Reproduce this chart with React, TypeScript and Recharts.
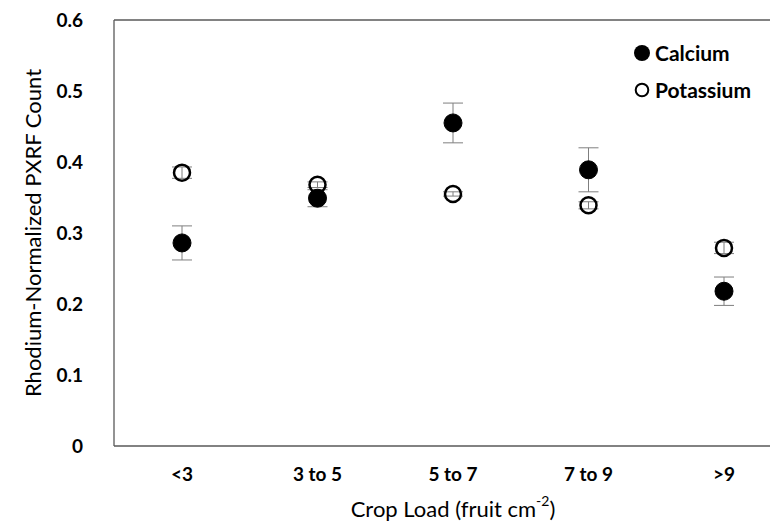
import React from 'react';
import { ComposedChart, Scatter, XAxis, YAxis, ErrorBar, ReferenceLine, Legend } from 'recharts';

const categories = ['<3', '3 to 5', '5 to 7', '7 to 9', '>9'];
const calcium = [0.286, 0.349, 0.455, 0.389, 0.218];
const calciumErr = [0.024, 0.012, 0.028, 0.031, 0.02];
const potassium = [0.385, 0.368, 0.355, 0.339, 0.279];
const potassiumErr = [0.008, 0.004, 0.003, 0.005, 0.008];
const yTicks = [0, 0.1, 0.2, 0.3, 0.4, 0.5, 0.6];
const seriesNames = ['Calcium', 'Potassium'];

const data = categories.map((c, i) => ({
  cat: c,
  ca: calcium[i],
  caErr: calciumErr[i],
  k: potassium[i],
  kErr: potassiumErr[i],
}));

const FONT = 'Lato, Carlito, Calibri, "Open Sans", sans-serif';
const AXIS = '#595959';

const FilledDot = (p: any) => <circle cx={p.cx} cy={p.cy} r={9} fill="#000" stroke="#000" strokeWidth={1} />;
const OpenDot = (p: any) => <circle cx={p.cx} cy={p.cy} r={8} fill="none" stroke="#000" strokeWidth={2.5} />;

const fmt = (v: number) => (v === 0 ? '0' : v.toFixed(1));

const LegendContent = () => (
  <div style={{ fontFamily: FONT, fontWeight: 700, fontSize: 21, color: '#000', lineHeight: '37px', whiteSpace: 'nowrap' }}>
    <div style={{ display: 'flex', alignItems: 'center' }}>
      <svg width={20} height={20} style={{ marginRight: 3 }}>
        <circle cx={10} cy={10} r={8} fill="#000" />
      </svg>
      <span>{seriesNames[0]}</span>
    </div>
    <div style={{ display: 'flex', alignItems: 'center' }}>
      <svg width={20} height={20} style={{ marginRight: 3 }}>
        <circle cx={10} cy={10} r={6.3} fill="none" stroke="#000" strokeWidth={2} />
      </svg>
      <span>{seriesNames[1]}</span>
    </div>
  </div>
);

const XTitle = (props: any) => {
  const vb = props.viewBox || {};
  const x = vb.x + vb.width / 2;
  const y = vb.y + 62;
  return (
    <text x={x} y={y} textAnchor="middle" dominantBaseline="central" fontFamily={FONT} fontSize={22} fill="#000">
      <tspan>Crop Load (fruit cm</tspan>
      <tspan fontSize={14} dy={-8}>-2</tspan>
      <tspan dy={8}>)</tspan>
    </text>
  );
};

const YTitle = (props: any) => {
  const vb = props.viewBox || {};
  const x = 24;
  const y = vb.y + vb.height / 2;
  return (
    <text x={x} y={y} transform={`rotate(-90, ${x}, ${y})`} textAnchor="middle" dominantBaseline="central" fontFamily={FONT} fontSize={22} fill="#000">
      Rhodium-Normalized PXRF Count
    </text>
  );
};

export default function App() {
  return (
    <div style={{ width: 770, height: 516, overflow: 'hidden', position: 'relative' }}>
      <ComposedChart
        width={800}
        height={516}
        data={data}
        margin={{ top: 12, right: 16, bottom: 18, left: 0 }}
      >
        <XAxis
          dataKey="cat"
          type="category"
          height={60}
          padding={{ left: 68, right: 68 }}
          axisLine={{ stroke: AXIS, strokeWidth: 1.3 }}
          tickLine={false}
          tickSize={6}
          tickMargin={16}
          tick={{ fontFamily: FONT, fontSize: 19, fontWeight: 700, fill: '#000' }}
          interval={0}
          label={<XTitle />}
        />
        <YAxis
          type="number"
          domain={[0, 0.6]}
          ticks={yTicks}
          width={106}
          axisLine={{ stroke: AXIS, strokeWidth: 1.3 }}
          tickLine={false}
          tickSize={6}
          tickMargin={25}
          tickFormatter={fmt}
          tick={{ fontFamily: FONT, fontSize: 19, fontWeight: 700, fill: '#000' }}
          label={<YTitle />}
        />
        <ReferenceLine y={0.6} stroke={AXIS} strokeWidth={1.3} />
        <Legend
          layout="vertical"
          align="center"
          verticalAlign="middle"
          wrapperStyle={{ position: 'absolute', top: 26, left: 624, width: 'auto', height: 'auto' }}
          content={<LegendContent />}
        />
        <Scatter name={seriesNames[0]} dataKey="ca" shape={<FilledDot />} isAnimationActive={false}>
          <ErrorBar dataKey="caErr" direction="y" width={10} stroke="#7f7f7f" strokeWidth={1} />
        </Scatter>
        <Scatter name={seriesNames[1]} dataKey="k" shape={<OpenDot />} isAnimationActive={false}>
          <ErrorBar dataKey="kErr" direction="y" width={10} stroke="#7f7f7f" strokeWidth={1} />
        </Scatter>
      </ComposedChart>
    </div>
  );
}
